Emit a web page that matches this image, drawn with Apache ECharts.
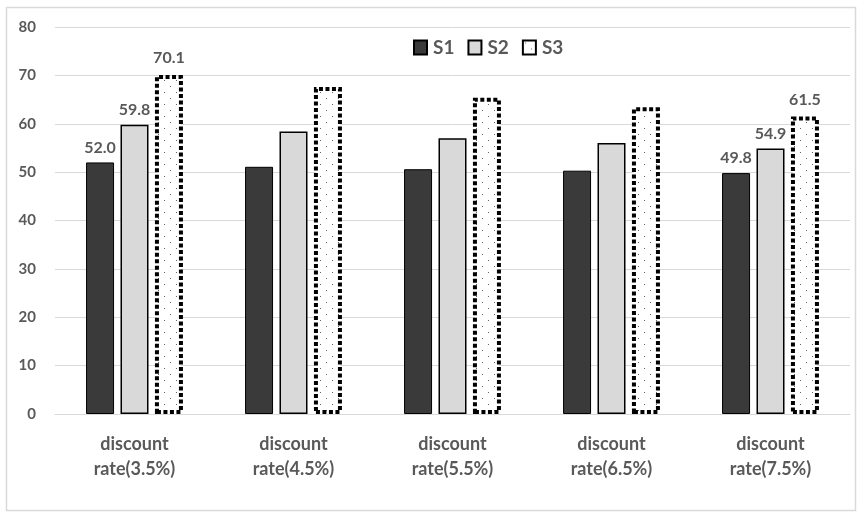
<!DOCTYPE html>
<html>
<head>
<meta charset="utf-8">
<script src="https://cdn.jsdelivr.net/npm/echarts@6/dist/echarts.min.js"></script>
<style>
html,body{margin:0;padding:0;background:#fff;}
#c{width:858px;height:513px;}
</style>
</head>
<body>
<div id="c"></div>
<script>
var categories = ['discount\nrate(3.5%)', 'discount\nrate(4.5%)', 'discount\nrate(5.5%)', 'discount\nrate(6.5%)', 'discount\nrate(7.5%)'];
var seriesNames = ['S1', 'S2', 'S3'];
var s1 = [52.0, 51.1, 50.6, 50.3, 49.8];
var s2 = [59.8, 58.4, 57.0, 56.0, 54.9];
var s3 = [70.1, 67.6, 65.4, 63.4, 61.5];
var labelledIndices = [0, 4];
var yTicks = [0, 10, 20, 30, 40, 50, 60, 70, 80];

var pc = document.createElement('canvas');
pc.width = 12; pc.height = 12;
var pctx = pc.getContext('2d');
pctx.fillStyle = '#fff';
pctx.fillRect(0, 0, 12, 12);
pctx.fillStyle = '#666';
pctx.fillRect(2, 2, 1, 1);
pctx.fillRect(8, 8, 1, 1);

var FONT = 'Lato, "Open Sans", sans-serif';
var labelCfg = {
  show: true, position: 'top', distance: 7,
  color: '#595959', fontSize: 16, fontWeight: 'bold', fontFamily: FONT,
  formatter: function (p) {
    return labelledIndices.indexOf(p.dataIndex) >= 0 ? p.value.toFixed(1) : '';
  }
};

var chart = echarts.init(document.getElementById('c'), null, {renderer: 'canvas'});
chart.setOption({
  animation: false,
  backgroundColor: '#fff',
  graphic: [{
    type: 'rect', left: 4, top: 5, z: -1,
    shape: {width: 849, height: 503},
    style: {fill: 'none', stroke: '#d9d9d9', lineWidth: 1.5}
  }],
  grid: {left: 55, right: 8, top: 27, bottom: 99},
  legend: {
    data: seriesNames,
    top: 33, left: 408,
    icon: 'rect',
    itemWidth: 13, itemHeight: 14, itemGap: 13,
    textStyle: {color: '#595959', fontSize: 19, fontWeight: 'bold', fontFamily: FONT, padding: [0, 0, 0, 1]}
  },
  xAxis: {
    type: 'category', data: categories,
    axisLine: {lineStyle: {color: '#d9d9d9', width: 1}},
    axisTick: {show: false},
    axisLabel: {color: '#595959', fontSize: 18, fontWeight: 'bold', fontFamily: FONT, lineHeight: 25, margin: 18}
  },
  yAxis: {
    type: 'value', min: 0, max: 80, interval: 10,
    axisLine: {show: false}, axisTick: {show: false},
    splitLine: {lineStyle: {color: '#d9d9d9', width: 1}},
    axisLabel: {color: '#595959', fontSize: 15, fontWeight: 'bold', fontFamily: FONT, margin: 19,
      formatter: function (v) { return yTicks.indexOf(v) >= 0 ? String(v) : ''; }}
  },
  series: [
    {name: seriesNames[0], type: 'bar', data: s1, barWidth: 28, barGap: '23%',
      itemStyle: {color: '#3a3a3a', borderColor: '#000', borderWidth: 1}, label: labelCfg},
    {name: seriesNames[1], type: 'bar', data: s2, barWidth: 28,
      itemStyle: {color: '#d9d9d9', borderColor: '#000', borderWidth: 1.5}, label: labelCfg},
    {name: seriesNames[2], type: 'bar', data: s3, barWidth: 28,
      itemStyle: {color: {image: pc, repeat: 'repeat'}, borderColor: '#000', borderWidth: 4, borderType: [4, 2.5]},
      label: Object.assign({}, labelCfg, {distance: 9})}
  ]
});
</script>
</body>
</html>
